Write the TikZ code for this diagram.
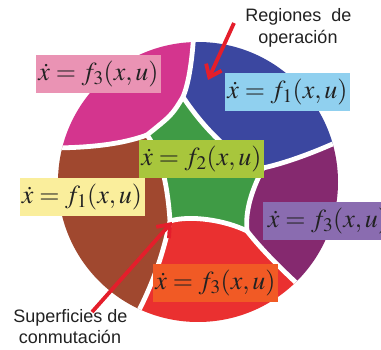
\documentclass[tikz,border=0pt]{standalone}
\usepackage{mathptmx}
\usepackage{fontspec}
\newfontfamily\labfont{Liberation Sans}
\usetikzlibrary{arrows.meta}
\definecolor{pinkR}{HTML}{D4358E}
\definecolor{blueR}{HTML}{3B47A0}
\definecolor{greenR}{HTML}{3F9B45}
\definecolor{brownR}{HTML}{A0482F}
\definecolor{purpleR}{HTML}{85296F}
\definecolor{redR}{HTML}{EA3030}
\definecolor{pinkB}{HTML}{EA93B4}
\definecolor{blueB}{HTML}{90D0EF}
\definecolor{greenB}{HTML}{A8C63C}
\definecolor{yellowB}{HTML}{FAEE9C}
\definecolor{purpleB}{HTML}{8A6CB0}
\definecolor{orangeB}{HTML}{F15A25}
\definecolor{arrowR}{HTML}{E41E2B}
\definecolor{txt}{HTML}{222222}
\tikzset{
  eqbox/.style={rectangle, inner sep=0pt, minimum width=125pt, minimum height=38pt,
    text=txt, font=\fontsize{26}{30}\selectfont},
  lab/.style={anchor=base, inner sep=0pt, text=txt, font=\labfont\fontsize{18}{21}\selectfont},
  gap/.style={draw=white, line width=4.8pt},
  redarrow/.style={draw=arrowR, line width=3.8pt,
    -{Straight Barb[length=11pt,width=17pt,line width=3.8pt]}}
}
\newcommand{\eqtext}[1]{$\dot x = f_{#1}(x,u)$}
\begin{document}
\begin{tikzpicture}[x=1pt,y=-1pt]
\useasboundingbox (0,0) rectangle (381,350);
\fill[white] (0,0) rectangle (381,350);
\begin{scope}
\clip (198,182) circle[radius=140];
% pink
\fill[pinkR] (194,0) -- (194,30) .. controls (192,65) and (188,85) .. (183,97)
  .. controls (172,115) .. (147,135) .. controls (120,145) and (85,148) .. (48,148)
  -- (0,150) -- (0,0) -- cycle;
% blue
\fill[blueR] (194,0) -- (194,30) .. controls (192,65) and (188,85) .. (183,97)
  .. controls (205,130) and (235,160) .. (263,168)
  .. controls (290,162) and (320,150) .. (346,138) -- (381,138) -- (381,0) -- cycle;
% purple
\fill[purpleR] (263,168) .. controls (290,162) and (320,150) .. (346,138)
  -- (381,138) -- (381,300) -- (305,291)
  .. controls (280,268) and (262,250) .. (247,231)
  .. controls (245,210) and (252,190) .. (263,168) -- cycle;
% red
\fill[redR] (247,231) .. controls (262,250) and (280,268) .. (305,291)
  -- (305,350) -- (134,350) -- (134,320)
  .. controls (150,290) and (162,260) .. (170,221)
  .. controls (190,215) and (225,220) .. (247,231) -- cycle;
% brown
\fill[brownR] (170,221) .. controls (162,260) and (150,290) .. (134,320)
  -- (0,320) -- (0,150) -- (48,148)
  .. controls (85,148) and (120,145) .. (147,135)
  .. controls (162,155) and (168,190) .. (170,221) -- cycle;
% green
\fill[greenR] (183,97) .. controls (205,130) and (235,160) .. (263,168)
  .. controls (252,190) and (245,210) .. (247,231)
  .. controls (225,220) and (190,215) .. (170,221)
  .. controls (168,190) and (162,155) .. (147,135)
  .. controls (172,115) .. (183,97) -- cycle;
% switching surfaces (white gaps)
\draw[gap] (194,30) .. controls (192,65) and (188,85) .. (183,97);
\draw[gap] (183,97) .. controls (172,115) .. (147,135);
\draw[gap] (147,135) .. controls (120,145) and (85,148) .. (48,148);
\draw[gap] (183,97) .. controls (205,130) and (235,160) .. (263,168);
\draw[gap] (263,168) .. controls (290,162) and (320,150) .. (346,138);
\draw[gap] (263,168) .. controls (252,190) and (245,210) .. (247,231);
\draw[gap] (247,231) .. controls (262,250) and (280,268) .. (305,291);
\draw[gap] (247,231) .. controls (225,220) and (190,215) .. (170,221);
\draw[gap] (170,221) .. controls (168,190) and (162,155) .. (147,135);
\draw[gap] (170,221) .. controls (162,260) and (150,290) .. (134,320);
\end{scope}
% equation boxes
\node[eqbox, fill=pinkB] (e1) at (98.5,74.5) {\eqtext{3}};
\node[eqbox, fill=blueB] (e2) at (287.5,92.5) {\eqtext{1}};
\node[eqbox, fill=greenB] (e3) at (201.5,159.5) {\eqtext{2}};
\node[eqbox, fill=yellowB] (e4) at (82,197.5) {\eqtext{1}};
\node[eqbox, fill=purpleB, minimum width=130pt] (e5) at (328,221) {\eqtext{3}};
\node[eqbox, fill=orangeB] (e6) at (215.5,283.5) {\eqtext{3}};
% arrows
\coordinate (a1s) at (234,23);
\coordinate (a1e) at (208,80);
\coordinate (a2s) at (92,312);
\coordinate (a2e) at (172,222);
\draw[redarrow] (a1s) -- (a1e);
\draw[redarrow] (a2s) -- (a2e);
% labels
\node[lab] (r1) at (298.5,21.5) {Regiones\ \ de};
\node[lab] (r2) at (298,43.5) {operación};
\node[lab] (s1) at (70.5,323) {Superficies de};
\node[lab] (s2) at (70,344) {conmutación};
\end{tikzpicture}
\end{document}
